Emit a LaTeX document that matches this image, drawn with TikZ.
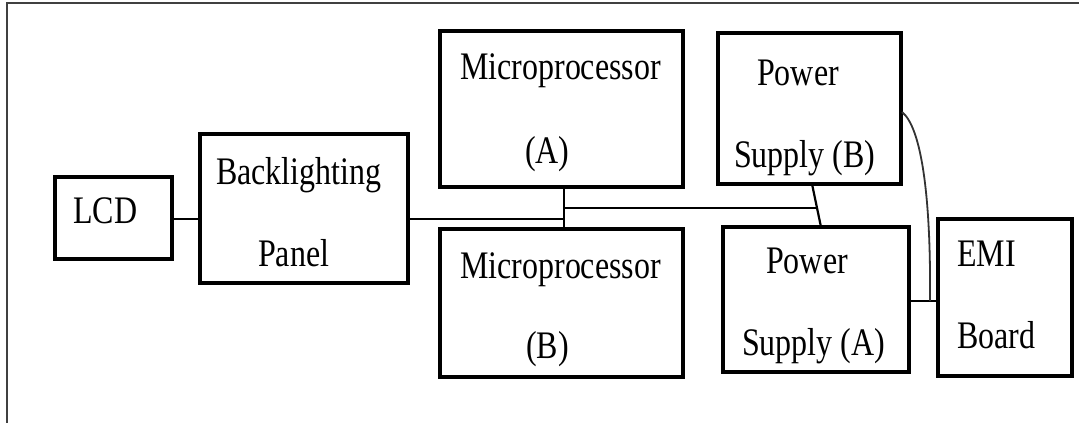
\documentclass[tikz,border=0pt]{standalone}
\usepackage{fontspec}
\setmainfont{Liberation Serif}[FakeStretch=0.82]
\usepackage{tikz}
\usetikzlibrary{calc, positioning}

\begin{document}
\begin{tikzpicture}[
    x=1pt, y=-1pt,
    box/.style={draw, line width=3.3pt, inner sep=0pt, outer sep=0pt},
    wire/.style={line width=2.8pt},
    lbl/.style={anchor=base west, inner sep=0pt, font=\fontsize{39}{47}\selectfont}
]
    \useasboundingbox (0,0) rectangle (1079,423);

    % Outer frame (cut off at right and bottom)
    \draw[line width=2pt, black!75] (7,440) -- (7,3) -- (1095,3);

    % Boxes
    \node[box, minimum width=117, minimum height=82]  (lcd) at (113.5,218) {};
    \node[box, minimum width=208, minimum height=149] (blp) at (304,208.5) {};
    \node[box, minimum width=243, minimum height=156] (mpa) at (561.5,109) {};
    \node[box, minimum width=243, minimum height=148] (mpb) at (561.5,303) {};
    \node[box, minimum width=183, minimum height=151] (psb) at (809.5,108.5) {};
    \node[box, minimum width=186, minimum height=145] (psa) at (816,299.5) {};
    \node[box, minimum width=134, minimum height=157] (emi) at (1005,297.5) {};

    % Labels
    \node[lbl] (lcdtxt) at (73,223) {LCD};
    \node[lbl] (blptxt) at (216,184) {Backlighting};
    \node[lbl] (blptxtb) at (258,266) {Panel};
    \node[lbl] (mpatxt) at (460,79) {Microprocessor};
    \node[lbl] (mpatxtb) at (525,163) {(A)};
    \node[lbl] (mpbtxt) at (460,278) {Microprocessor};
    \node[lbl] (mpbtxtb) at (526,358) {(B)};
    \node[lbl] (psbtxt) at (757,85) {Power};
    \node[lbl] (psbtxtb) at (734,167) {Supply (B)};
    \node[lbl] (psatxt) at (766,273) {Power};
    \node[lbl] (psatxtb) at (742,355) {Supply (A)};
    \node[lbl] (emitxt) at (957,266) {EMI};
    \node[lbl] (emitxtb) at (957,348) {Board};

    % Junction points
    \coordinate (bus) at (564,219);
    \coordinate (tap) at (564,208);
    \coordinate (feed) at (930,301);

    % Connectors
    \draw[wire] (lcd.east |- bus) -- (blp.west |- bus);
    \draw[wire] (blp.east |- bus) -- (bus);
    \draw[wire] (mpa.south -| bus) -- (mpb.north -| bus);
    \draw[line width=2.2pt] ($(psb.south)+(2.5,0)$) -- ($(psa.north)+(5,0)$)
        coordinate[pos=0.56] (slant);
    \draw[wire] (tap) -- (tap -| slant);
    \draw[wire] (psa.east |- feed) -- (emi.west |- feed);
    \draw[line width=1.8pt, black!80] ($(psb.east)+(1,3.5)$)
        .. controls (922,128) and (931,200) .. (feed);

\end{tikzpicture}
\end{document}
